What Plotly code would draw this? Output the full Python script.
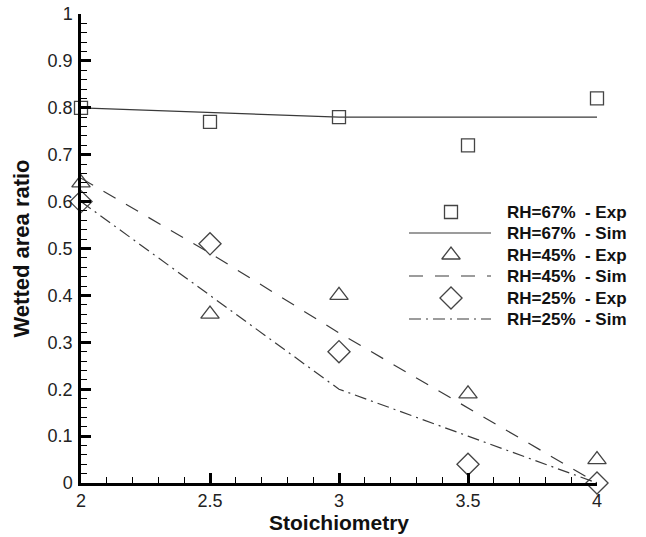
import plotly.graph_objects as go

# Stoichiometry values
stoich = [2.0, 2.5, 3.0, 3.5, 4.0]

# Wetted area ratio: experiments (markers) and simulations (lines)
rh67_exp = [0.80, 0.77, 0.78, 0.72, 0.82]
rh67_sim = [0.80, 0.79, 0.78, 0.78, 0.78]
rh45_exp = [0.64, 0.36, 0.40, 0.19, 0.05]
rh45_sim = [0.65, 0.49, 0.32, 0.16, 0.00]
rh25_exp = [0.60, 0.51, 0.28, 0.04, 0.00]
rh25_sim = [0.60, 0.40, 0.20, 0.10, 0.00]

legend_labels = ["RH=67% - Exp", "RH=67% - Sim", "RH=45% - Exp",
                 "RH=45% - Sim", "RH=25% - Exp", "RH=25% - Sim"]

FONT = "Liberation Sans, Arial, sans-serif"
LINE_COL = "#3a3a3a"
MARK_COL = "#444444"

DASH = "14px,12px"
DASHDOT = "12px,5px,2px,5px"

fig = go.Figure()

def exp_trace(y, symbol, size):
    return go.Scatter(
        x=stoich, y=y, mode="markers", cliponaxis=False, showlegend=False,
        marker=dict(symbol=symbol, size=size, color=MARK_COL,
                    line=dict(color=MARK_COL, width=1.3)))

def sim_trace(y, dash):
    return go.Scatter(
        x=stoich, y=y, mode="lines", cliponaxis=False, showlegend=False,
        line=dict(color=LINE_COL, width=1.2, dash=dash))

fig.add_trace(sim_trace(rh67_sim, "solid"))
fig.add_trace(sim_trace(rh45_sim, DASH))
fig.add_trace(sim_trace(rh25_sim, DASHDOT))
fig.add_trace(exp_trace(rh67_exp, "square-open", 13))
fig.add_trace(exp_trace(rh45_exp, "triangle-up-open", 16))
fig.add_trace(exp_trace(rh25_exp, "diamond-open", 17))

# Hand-built legend on an overlay axis measured in page pixels
row_y = [212, 233, 255, 276, 298, 319]
sym_x = 451
line_x = [409, 491]
text_x = 505
legend_styles = [
    ("marker", "square-open", 13),
    ("line", "solid", None),
    ("marker", "triangle-up-open", 16),
    ("line", DASH, None),
    ("marker", "diamond-open", 17),
    ("line", DASHDOT, None),
]
for (kind, style, size), yy, label in zip(legend_styles, row_y, legend_labels):
    if kind == "marker":
        fig.add_trace(go.Scatter(
            x=[sym_x], y=[yy], xaxis="x2", yaxis="y2", mode="markers",
            showlegend=False, cliponaxis=False,
            marker=dict(symbol=style, size=size, color=MARK_COL,
                        line=dict(color=MARK_COL, width=1.3))))
    else:
        fig.add_trace(go.Scatter(
            x=line_x, y=[yy, yy], xaxis="x2", yaxis="y2", mode="lines",
            showlegend=False, cliponaxis=False,
            line=dict(color=LINE_COL, width=1.2, dash=style)))
    fig.add_annotation(
        x=text_x, y=yy, xref="x2", yref="y2",
        text=label.replace("% - ", "%&nbsp; - "), showarrow=False,
        xanchor="left", yanchor="middle",
        font=dict(family=FONT, size=17, color="#111", weight="bold"))

axis_common = dict(
    showgrid=False, zeroline=False, showline=True, linecolor="black",
    linewidth=2.5, ticks="inside", ticklen=10, tickwidth=2.5,
    tickcolor="black", automargin=False,
    tickfont=dict(family=FONT, size=18, color="#222"),
)

fig.update_layout(
    width=646, height=537,
    margin=dict(l=81, r=49, t=14, b=54),
    plot_bgcolor="white", paper_bgcolor="white",
    xaxis=dict(
        range=[2, 4], dtick=0.5, tick0=2,
        minor=dict(dtick=0.1, ticks="inside", ticklen=6, tickwidth=1.2,
                   tickcolor="black"),
        title=dict(text="Stoichiometry", standoff=4,
                   font=dict(family=FONT, size=21, color="#111",
                             weight="bold")),
        **axis_common),
    yaxis=dict(
        range=[0, 1], dtick=0.1, tick0=0, ticklabelstandoff=2,
        minor=dict(dtick=0.02, ticks="inside", ticklen=6, tickwidth=1.2,
                   tickcolor="black"),
        title=dict(text="Wetted area ratio", standoff=12,
                   font=dict(family=FONT, size=22, color="#111",
                             weight="bold")),
        **axis_common),
    xaxis2=dict(overlaying="x", range=[81, 597], visible=False,
                anchor="y2", automargin=False),
    yaxis2=dict(overlaying="y", range=[483, 14], visible=False,
                anchor="x2", automargin=False),
)

fig.write_html("out.html")
